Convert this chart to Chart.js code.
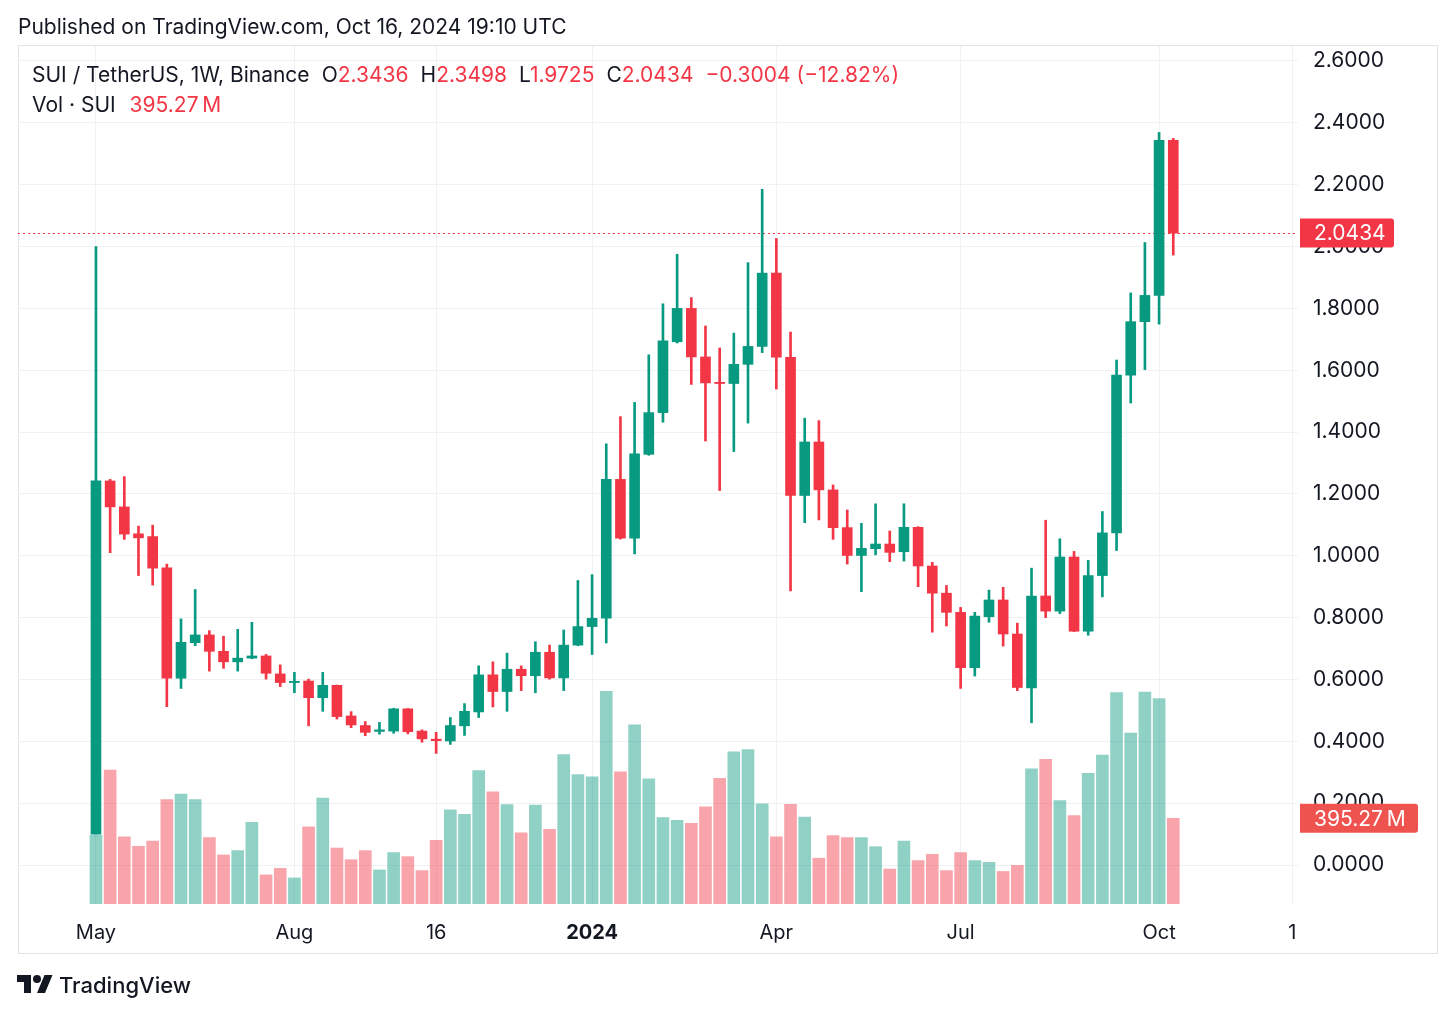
<!DOCTYPE html>
<html>
<head>
<meta charset="utf-8">
<script src="https://cdn.jsdelivr.net/npm/chart.js@4.4.1/dist/chart.umd.min.js"></script>
<style>
html,body{margin:0;padding:0;background:#fff;width:1456px;height:1016px;overflow:hidden;font-family:Inter,'Noto Sans',sans-serif;color:#131722}
canvas{position:absolute;left:0;top:0}
.t{position:absolute;white-space:nowrap;font-size:21px;line-height:22px}
.red{color:#F23645}
.seg{margin-left:12px}
#logo{position:absolute;left:17px;top:971px;height:28px;display:flex;align-items:center}
#logo span{font-size:22px;font-weight:500;margin-left:6px;color:#131722}
</style>
</head>
<body>
<canvas id="c" width="1456" height="1016"></canvas>
<div class="t" style="left:18px;top:16px">Published on TradingView.com, Oct 16, 2024 19:10 UTC</div>
<div class="t" id="hdr" style="left:32px;top:64px"></div>
<div class="t" id="vol" style="left:32px;top:94px"></div>
<div id="logo"><svg width="36" height="28" viewBox="0 0 36 28"><path fill="#131722" d="M14 22H7V11H0V4h14v18zM28 22h-8l7.5-18h8L28 22z"/><circle fill="#131722" cx="20" cy="8" r="4"/></svg><span>TradingView</span></div>
<script>
// SUI / TetherUS weekly candles, week 0 = week of 1 May 2023
const open_ = [0.100,1.242,1.158,1.071,1.062,0.961,0.604,0.719,0.744,0.691,0.657,0.669,0.676,0.618,0.590,0.595,0.541,0.581,0.482,0.451,0.432,0.433,0.505,0.433,0.407,0.401,0.450,0.495,0.615,0.561,0.633,0.612,0.688,0.605,0.711,0.771,0.798,1.247,1.057,1.328,1.463,1.692,1.800,1.643,1.561,1.557,1.619,1.677,1.914,1.642,1.195,1.368,1.213,1.091,1.001,1.023,1.038,1.013,1.092,0.967,0.879,0.817,0.638,0.803,0.857,0.747,0.573,0.870,0.821,0.996,0.756,0.936,1.074,1.584,1.757,1.842,2.3436];
const high_ = [2.000,1.247,1.256,1.096,1.099,0.973,0.796,0.891,0.758,0.740,0.762,0.785,0.681,0.647,0.623,0.601,0.623,0.582,0.496,0.464,0.461,0.507,0.506,0.437,0.429,0.477,0.522,0.644,0.657,0.685,0.644,0.722,0.711,0.760,0.920,0.939,1.362,1.450,1.496,1.650,1.815,1.975,1.835,1.743,1.672,1.720,1.948,2.185,2.026,1.723,1.445,1.437,1.229,1.148,1.105,1.168,1.080,1.168,1.094,0.979,0.904,0.833,0.817,0.889,0.898,0.782,0.960,1.115,1.055,1.014,0.985,1.143,1.633,1.850,2.013,2.369,2.3498];
const low_ = [0.100,1.010,1.053,0.936,0.905,0.512,0.571,0.709,0.627,0.636,0.627,0.667,0.601,0.577,0.557,0.450,0.497,0.472,0.444,0.418,0.423,0.426,0.424,0.397,0.361,0.390,0.419,0.477,0.511,0.497,0.564,0.557,0.601,0.564,0.709,0.681,0.718,1.054,1.006,1.325,1.432,1.688,1.554,1.371,1.211,1.337,1.429,1.657,1.539,0.886,1.107,1.116,1.053,0.973,0.884,1.003,0.981,0.983,0.900,0.753,0.773,0.571,0.611,0.785,0.708,0.564,0.460,0.800,0.813,0.755,0.743,0.867,1.017,1.494,1.602,1.749,1.9725];
const close_ = [1.242,1.158,1.070,1.058,0.960,0.604,0.720,0.744,0.691,0.657,0.669,0.676,0.620,0.590,0.594,0.541,0.581,0.480,0.453,0.429,0.437,0.505,0.431,0.408,0.402,0.451,0.497,0.615,0.561,0.633,0.612,0.688,0.605,0.711,0.771,0.798,1.247,1.057,1.330,1.463,1.695,1.800,1.643,1.559,1.557,1.619,1.677,1.914,1.642,1.195,1.368,1.213,1.091,1.001,1.024,1.038,1.011,1.092,0.967,0.879,0.817,0.638,0.805,0.857,0.747,0.574,0.870,0.821,0.996,0.756,0.936,1.074,1.584,1.757,1.842,2.3438,2.0434];
// volume in millions of SUI
const volume = [316,617,310,266,290,481,507,481,306,226,246,376,134,164,120,356,488,258,204,246,157,237,218,154,293,434,413,615,517,458,328,456,344,688,596,586,980,609,825,577,398,385,372,448,579,701,712,461,309,459,400,211,315,306,306,264,161,290,200,229,154,237,200,192,150,178,623,667,476,407,602,686,974,788,976,946,395.27];
const xTickWeeks = [0,14,24,35,48,61,75,84.4];
const xTickLabels = ['May','Aug','16','2024','Apr','Jul','Oct','1'];
const priceTicks = [0,0.2,0.4,0.6,0.8,1.0,1.2,1.4,1.6,1.8,2.0,2.2,2.4,2.6];

const UP = '#089981', DOWN = '#F23645';
const UPV = 'rgba(8,153,129,0.45)', DOWNV = 'rgba(242,54,69,0.45)';
const isUp = i => close_[i] >= open_[i];
const N = close_.length;
const last = N - 1;

// header text
const f4 = v => v.toFixed(4);
const chg = close_[last] - close_[last-1];
const pct = chg / close_[last-1] * 100;
document.getElementById('hdr').innerHTML =
  'SUI / TetherUS, 1W, Binance' +
  '<span class="seg">O<span class="red">' + f4(open_[last]) + '</span></span>' +
  '<span class="seg">H<span class="red">' + f4(high_[last]) + '</span></span>' +
  '<span class="seg">L<span class="red">' + f4(low_[last]) + '</span></span>' +
  '<span class="seg">C<span class="red">' + f4(close_[last]) + '</span></span>' +
  '<span class="seg red">' + (chg<0?'\u2212':'+') + Math.abs(chg).toFixed(4) + ' (' + (pct<0?'\u2212':'+') + Math.abs(pct).toFixed(2) + '%)</span>';
document.getElementById('vol').innerHTML = 'Vol \u00B7 SUI <span class="red" style="margin-left:8px">' + volume[last].toFixed(2) + '\u202FM</span>';

const idx = close_.map((_, i) => i);
const GRID = '#EFF1F5';

const framePlugin = {
  id: 'frame',
  beforeDraw(chart) {
    const ctx = chart.ctx;
    ctx.save();
    ctx.strokeStyle = '#E0E3EB';
    ctx.lineWidth = 1;
    ctx.strokeRect(18.5, 45.5, 1419, 908);
    ctx.restore();
  },
  beforeDatasetsDraw(chart) {
    const ctx = chart.ctx, a = chart.chartArea;
    const y = Math.round(chart.scales.y.getPixelForValue(close_[last])) + 0.5;
    ctx.save();
    ctx.strokeStyle = DOWN;
    ctx.lineWidth = 1;
    ctx.setLineDash([2, 3]);
    ctx.beginPath();
    ctx.moveTo(a.left, y);
    ctx.lineTo(a.right, y);
    ctx.stroke();
    ctx.restore();
  },
  afterDraw(chart) {
    const ctx = chart.ctx;
    const box = (yc, w, color, text) => {
      ctx.save();
      ctx.fillStyle = color;
      ctx.beginPath();
      ctx.roundRect(1300, yc - 14.5, w, 29, [0, 3, 3, 0]);
      ctx.fill();
      ctx.fillStyle = '#fff';
      ctx.font = '21px Inter';
      ctx.textBaseline = 'middle';
      ctx.fillText(text, 1314, yc + 1);
      ctx.restore();
    };
    box(chart.scales.y.getPixelForValue(close_[last]), 94, DOWN, f4(close_[last]));
    box(chart.scales.yv.getPixelForValue(volume[last]), 118, '#EF5350', volume[last].toFixed(2) + '\u202FM');
  }
};

new Chart(document.getElementById('c'), {
  type: 'bar',
  data: {
    datasets: [
      {
        label: 'Body',
        data: idx.map(i => ({x: i, y: [open_[i], close_[i]]})),
        backgroundColor: idx.map(i => isUp(i) ? UP : DOWN),
        barThickness: 10, grouped: false, minBarLength: 1, yAxisID: 'y', order: 1
      },
      {
        label: 'Wick',
        data: idx.map(i => ({x: i, y: [low_[i], high_[i]]})),
        backgroundColor: idx.map(i => isUp(i) ? UP : DOWN),
        barThickness: 2, grouped: false, yAxisID: 'y', order: 2
      },
      {
        label: 'Volume',
        data: idx.map(i => ({x: i, y: volume[i]})),
        backgroundColor: idx.map(i => isUp(i) ? UPV : DOWNV),
        barThickness: 12, grouped: false, yAxisID: 'yv', order: 3
      }
    ]
  },
  options: {
    responsive: false,
    animation: false,
    devicePixelRatio: 1,
    layout: {padding: {left: 18, top: 46, right: 18, bottom: 62}},
    plugins: {legend: {display: false}, tooltip: {enabled: false}},
    scales: {
      x: {
        type: 'linear', min: -5.5, max: 84.8, offset: false,
        grid: {color: GRID, drawTicks: false, offset: false},
        border: {display: false},
        afterBuildTicks: s => { s.ticks = xTickWeeks.map(v => ({value: v})); },
        afterFit: s => { s.height = 50; },
        ticks: {
          autoSkip: false, maxRotation: 0, padding: 17, color: '#131722',
          callback: (v, i) => xTickLabels[i],
          font: c => ({family: 'Inter', size: 20, weight: (xTickLabels[c.index] === '2024') ? 'bold' : 'normal'})
        }
      },
      y: {
        type: 'linear', position: 'right', min: -0.1261, max: 2.6485,
        grid: {color: GRID, drawTicks: false},
        border: {display: false},
        afterBuildTicks: s => { s.ticks = priceTicks.map(v => ({value: v})); },
        afterFit: s => { s.width = 140; },
        ticks: {padding: 15, color: '#131722', font: {family: 'Inter', size: 21}, callback: v => Number(v).toFixed(4)}
      },
      yv: {
        type: 'linear', display: false, min: 0, max: 3953
      }
    }
  },
  plugins: [framePlugin]
});
</script>
</body>
</html>
